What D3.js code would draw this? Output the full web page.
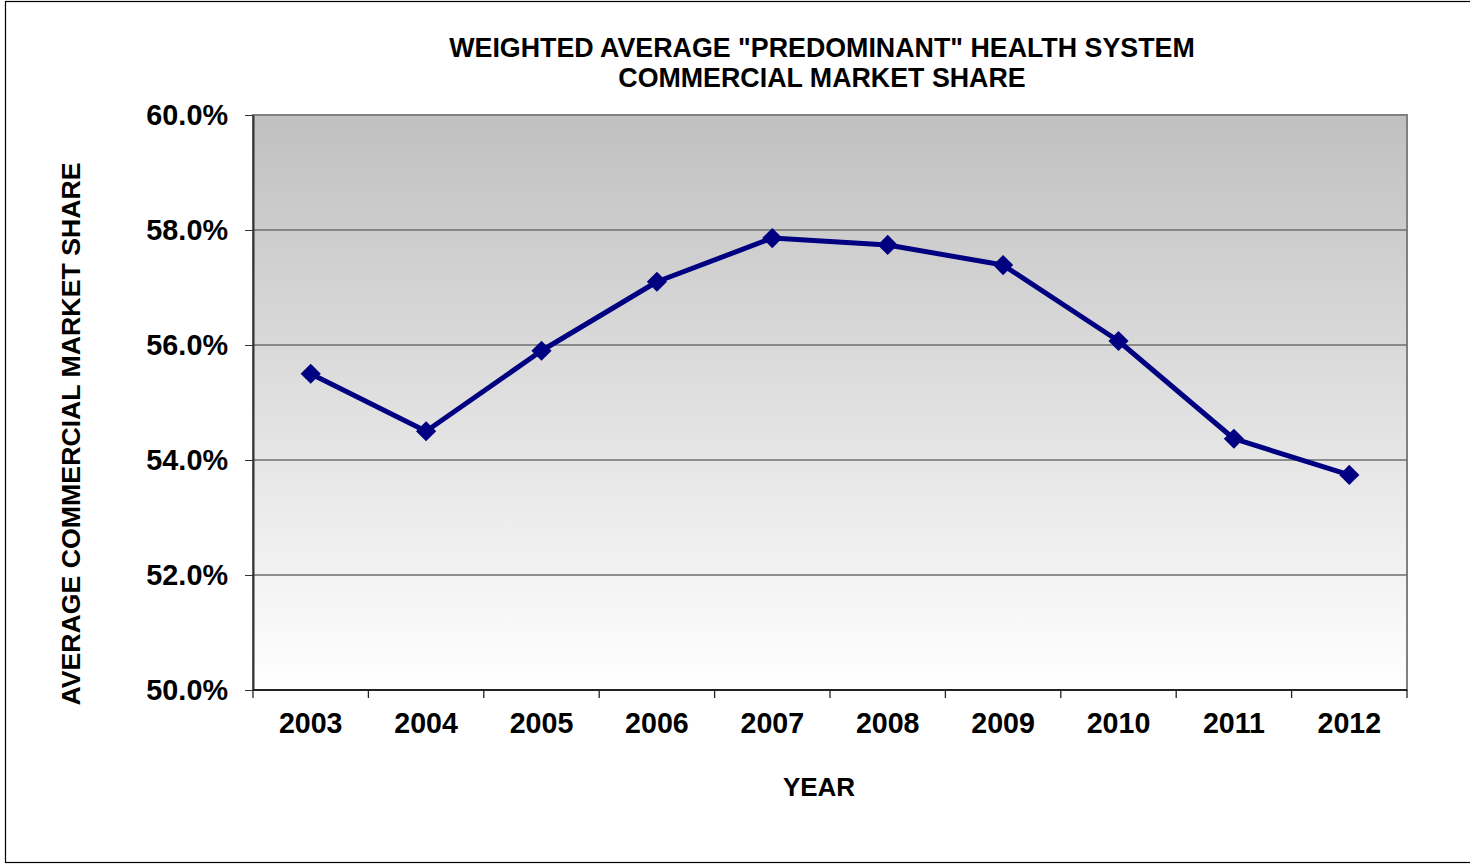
<!DOCTYPE html>
<html>
<head>
<meta charset="utf-8">
<script src="https://cdn.jsdelivr.net/npm/d3@7"></script>
<style>
  body { margin: 0; background: #fff; }
  text { font-family: "Liberation Sans", Arial, sans-serif; font-weight: bold; }
</style>
</head>
<body>
<div id="chart"></div>
<script>
const years = ['2003', '2004', '2005', '2006', '2007', '2008', '2009', '2010', '2011', '2012'];
const shareValues = [55.5, 54.5, 55.9, 57.1, 57.86, 57.74, 57.39, 56.07, 54.37, 53.74];
const yTicks = [50, 52, 54, 56, 58, 60];
const titleLines = ['WEIGHTED AVERAGE "PREDOMINANT" HEALTH SYSTEM', 'COMMERCIAL MARKET SHARE'];

const width = 1470;
const height = 866;
const margin = { top: 115, right: 63, bottom: 176, left: 253 };
const innerW = width - margin.left - margin.right;
const innerH = height - margin.top - margin.bottom;

const svg = d3.select('#chart').append('svg')
  .attr('width', width)
  .attr('height', height);

// outer frame
svg.append('rect')
  .attr('x', 5.5).attr('y', 1.5)
  .attr('width', 1480).attr('height', 861)
  .attr('fill', 'none')
  .attr('stroke', '#000')
  .attr('stroke-width', 1.2);

// background gradient for plot area
const grad = svg.append('defs').append('linearGradient')
  .attr('id', 'bg')
  .attr('x1', 0).attr('y1', 0).attr('x2', 0).attr('y2', 1);
grad.append('stop').attr('offset', '0%').attr('stop-color', '#c0c0c0');
grad.append('stop').attr('offset', '100%').attr('stop-color', '#ffffff');

const g = svg.append('g')
  .attr('transform', `translate(${margin.left},${margin.top})`);

const x = d3.scaleBand().domain(years).range([0, innerW]);
const y = d3.scaleLinear().domain([50, 60]).range([innerH, 0]);

g.append('rect')
  .attr('width', innerW).attr('height', innerH)
  .attr('fill', 'url(#bg)')
  .attr('stroke', '#808080')
  .attr('stroke-width', 2);

// gridlines
g.append('g')
  .selectAll('line')
  .data(yTicks.filter(d => d > 50 && d < 60))
  .enter().append('line')
  .attr('x1', 0).attr('x2', innerW)
  .attr('y1', d => y(d)).attr('y2', d => y(d))
  .attr('stroke', '#6e6e6e')
  .attr('stroke-width', 1.5);

// y axis
const yAxis = g.append('g')
  .call(d3.axisLeft(y).tickValues(yTicks).tickFormat(d => d.toFixed(1) + '%').tickSize(8).tickSizeOuter(0));
yAxis.select('.domain').attr('stroke', '#333').attr('stroke-width', 2);
yAxis.selectAll('.tick line').attr('stroke', '#333');
yAxis.selectAll('.tick text')
  .attr('x', -25)
  .attr('fill', '#000')
  .style('font-size', '28.8px');

// x axis: ticks between categories
const xAxis = g.append('g').attr('transform', `translate(0,${innerH})`);
xAxis.append('line')
  .attr('x1', 0).attr('x2', innerW)
  .attr('stroke', '#222').attr('stroke-width', 2);
xAxis.selectAll('.tk')
  .data(years.concat(['end']))
  .enter().append('line')
  .attr('class', 'tk')
  .attr('x1', (d, i) => i * x.step()).attr('x2', (d, i) => i * x.step())
  .attr('y1', 0).attr('y2', 8)
  .attr('stroke', '#222').attr('stroke-width', 1.3);
xAxis.selectAll('.lbl')
  .data(years)
  .enter().append('text')
  .attr('class', 'lbl')
  .attr('x', d => x(d) + x.bandwidth() / 2)
  .attr('y', 43)
  .attr('text-anchor', 'middle')
  .style('font-size', '28.6px')
  .text(d => d);

// line + markers
const pts = years.map((d, i) => ({ year: d, value: shareValues[i] }));
const line = d3.line()
  .x(d => x(d.year) + x.bandwidth() / 2)
  .y(d => y(d.value));

g.append('path')
  .datum(pts)
  .attr('d', line)
  .attr('fill', 'none')
  .attr('stroke', '#000080')
  .attr('stroke-width', 5)
  .attr('stroke-linejoin', 'round');

g.selectAll('.marker')
  .data(pts)
  .enter().append('path')
  .attr('class', 'marker')
  .attr('d', d3.symbol().type(d3.symbolDiamond2).size(260))
  .attr('transform', d => `translate(${x(d.year) + x.bandwidth() / 2},${y(d.value)})`)
  .attr('fill', '#000080');

// titles
svg.append('text')
  .attr('text-anchor', 'middle')
  .style('font-size', '26.8px')
  .selectAll('tspan')
  .data(titleLines)
  .enter().append('tspan')
  .attr('x', 822)
  .attr('y', (d, i) => 57 + i * 30)
  .text(d => d);

svg.append('text')
  .attr('x', 819).attr('y', 796)
  .attr('text-anchor', 'middle')
  .style('font-size', '26px')
  .text('YEAR');

svg.append('text')
  .attr('transform', 'translate(80,434) rotate(-90)')
  .attr('text-anchor', 'middle')
  .style('font-size', '26.7px')
  .text('AVERAGE COMMERCIAL MARKET SHARE');
</script>
</body>
</html>
